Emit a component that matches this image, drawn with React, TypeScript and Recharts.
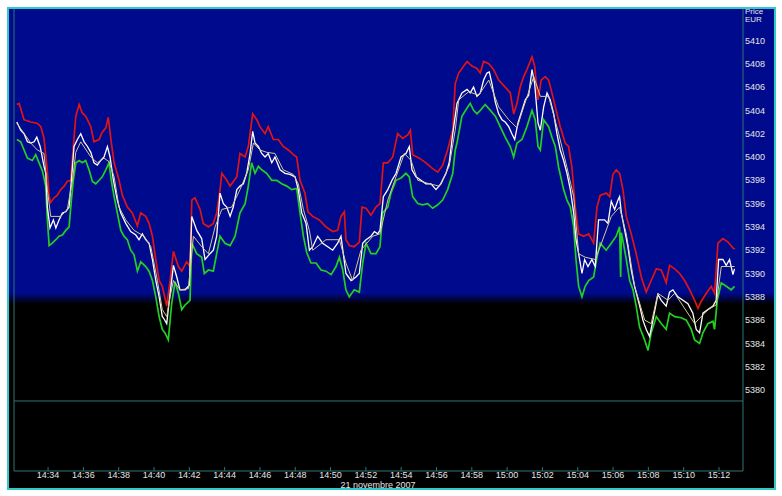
import React from 'react';
import { LineChart, Line, XAxis, YAxis, ReferenceLine } from 'recharts';

// time axis: minutes after 14:00, price in EUR
const xTicks = [34, 36, 38, 40, 42, 44, 46, 48, 50, 52, 54, 56, 58, 60, 62, 64, 66, 68, 70, 72];
const yTicks = [5380, 5382, 5384, 5386, 5388, 5390, 5392, 5394, 5396, 5398, 5400, 5402, 5404, 5406, 5408, 5410];

const redTimes = [
  32.23, 32.36, 32.64, 33.02, 33.38, 33.59, 33.77, 33.94, 34.06, 34.15, 34.34, 34.51, 34.72, 34.91, 35.08, 35.29,
  35.43, 35.57, 35.76, 35.93, 36.13, 36.42, 36.6, 36.89, 37.06, 37.27, 37.41, 37.55, 37.74, 38.02, 38.21, 38.49,
  38.77, 39.06, 39.25, 39.53, 39.72, 39.91, 40.1, 40.29, 40.47, 40.72, 40.91, 41.1, 41.38, 41.57, 41.85, 42.04,
  42.14, 42.32, 42.61, 42.79, 43.08, 43.36, 43.55, 43.74, 43.84, 44.12, 44.31, 44.69, 44.87, 45.16, 45.34, 45.59,
  45.82, 46.0, 46.29, 46.47, 46.76, 47.04, 47.32, 47.61, 47.89, 48.08, 48.27, 48.55, 48.72, 48.99, 49.36, 49.74,
  50.12, 50.4, 50.59, 50.78, 50.87, 51.06, 51.34, 51.63, 51.78, 52.01, 52.29, 52.57, 52.8, 52.99, 53.24, 53.52,
  53.8, 54.09, 54.37, 54.52, 54.65, 55.03, 55.4, 55.78, 56.07, 56.35, 56.63, 56.92, 57.06, 57.26, 57.54, 57.73,
  58.01, 58.29, 58.48, 58.67, 58.96, 59.24, 59.52, 59.89, 60.18, 60.37, 60.56, 60.74, 60.94, 61.12, 61.41, 61.56,
  61.75, 61.93, 62.16, 62.35, 62.54, 62.73, 63.01, 63.29, 63.48, 63.67, 63.86, 64.05, 64.33, 64.62, 64.9, 65.09,
  65.27, 65.61, 65.81, 65.99, 66.18, 66.37, 66.56, 66.75, 67.03, 67.31, 67.6, 67.88, 68.16, 68.45, 68.73, 69.01,
  69.2, 69.49, 69.77, 70.05, 70.34, 70.62, 70.81, 70.99, 71.28, 71.56, 71.75, 71.94, 72.22, 72.51, 72.79, 72.9,
];
const redPrices = [
  5404.5, 5404.6, 5403.2, 5403.0, 5402.9, 5402.6, 5401.6, 5399.1, 5396.6, 5396.1, 5396.5, 5396.7, 5397.2, 5397.5, 5397.9, 5398.0,
  5400.9, 5403.5, 5404.5, 5403.8, 5403.5, 5402.6, 5401.3, 5401.5, 5402.1, 5402.5, 5403.4, 5401.6, 5399.5, 5398.0, 5396.7, 5395.7,
  5395.2, 5394.1, 5395.2, 5394.9, 5394.3, 5393.2, 5391.2, 5389.4, 5388.9, 5387.2, 5389.4, 5391.9, 5390.6, 5390.2, 5391.0, 5390.6,
  5396.3, 5396.5, 5395.5, 5394.3, 5394.0, 5394.3, 5395.2, 5397.2, 5398.6, 5398.0, 5397.5, 5398.3, 5400.3, 5400.0, 5400.9, 5403.7,
  5403.2, 5402.6, 5402.0, 5402.6, 5401.5, 5401.5, 5400.9, 5400.6, 5400.2, 5400.0, 5398.0, 5396.9, 5395.3, 5394.9, 5394.6, 5394.0,
  5393.6, 5393.7, 5394.9, 5395.3, 5392.9, 5392.4, 5392.3, 5392.7, 5395.7, 5395.6, 5395.0, 5395.7, 5396.0, 5399.5, 5399.5, 5400.0,
  5402.0, 5401.6, 5401.9, 5402.3, 5400.2, 5399.9, 5399.5, 5399.0, 5398.7, 5399.3, 5400.6, 5402.3, 5406.3, 5407.2, 5407.8, 5408.2,
  5407.8, 5407.6, 5407.2, 5408.2, 5408.0, 5407.5, 5406.6, 5406.0, 5405.5, 5403.7, 5404.6, 5406.0, 5406.9, 5407.5, 5408.6, 5407.8,
  5404.9, 5406.6, 5406.9, 5406.6, 5405.5, 5404.3, 5402.6, 5401.2, 5400.9, 5399.1, 5395.7, 5393.4, 5393.2, 5393.4, 5392.6, 5395.7,
  5396.7, 5396.9, 5396.6, 5398.5, 5398.9, 5398.6, 5397.2, 5394.9, 5393.4, 5391.7, 5389.7, 5388.4, 5389.4, 5390.4, 5390.3, 5389.2,
  5390.7, 5390.4, 5390.0, 5389.4, 5388.6, 5387.7, 5387.0, 5387.6, 5388.3, 5388.9, 5388.3, 5392.6, 5393.0, 5392.7, 5392.2, 5392.1,
];

const greenTimes = [
  32.23, 32.45, 32.64, 32.83, 33.11, 33.3, 33.49, 33.68, 33.87, 33.96, 34.06, 34.24, 34.44, 34.62, 34.81, 35.0,
  35.19, 35.32, 35.43, 35.57, 35.76, 35.94, 36.13, 36.32, 36.51, 36.7, 36.89, 37.07, 37.27, 37.45, 37.58, 37.74,
  37.92, 38.12, 38.3, 38.49, 38.68, 38.87, 39.06, 39.25, 39.53, 39.72, 39.91, 40.1, 40.29, 40.47, 40.62, 40.81,
  41.0, 41.19, 41.38, 41.57, 41.76, 42.04, 42.14, 42.42, 42.7, 42.85, 43.08, 43.36, 43.55, 43.74, 44.02, 44.31,
  44.59, 44.87, 45.16, 45.34, 45.53, 45.72, 45.91, 46.1, 46.38, 46.67, 46.95, 47.23, 47.52, 47.8, 48.08, 48.27,
  48.46, 48.65, 48.89, 49.18, 49.46, 49.74, 50.03, 50.31, 50.5, 50.69, 50.87, 51.06, 51.34, 51.63, 51.82, 52.01,
  52.29, 52.57, 52.8, 52.95, 53.24, 53.42, 53.71, 53.99, 54.27, 54.46, 54.65, 54.94, 55.22, 55.5, 55.78, 56.07,
  56.35, 56.63, 56.92, 57.06, 57.16, 57.44, 57.73, 57.91, 58.1, 58.29, 58.48, 58.76, 59.05, 59.33, 59.61, 59.89,
  60.18, 60.37, 60.56, 60.84, 61.12, 61.41, 61.59, 61.75, 61.88, 62.07, 62.35, 62.54, 62.73, 62.92, 63.2, 63.39,
  63.58, 63.77, 63.9, 64.05, 64.24, 64.42, 64.62, 64.9, 65.09, 65.27, 65.61, 65.9, 66.18, 66.37, 66.43, 66.47,
  66.56, 66.75, 66.94, 67.13, 67.31, 67.5, 67.79, 67.98, 68.16, 68.45, 68.73, 69.01, 69.2, 69.49, 69.86, 70.15,
  70.43, 70.62, 70.9, 71.09, 71.37, 71.66, 71.75, 71.9, 72.13, 72.41, 72.69, 72.88,
];
const greenPrices = [
  5401.5, 5401.3, 5400.6, 5399.9, 5399.7, 5400.2, 5399.5, 5398.8, 5397.5, 5394.6, 5392.4, 5392.6, 5392.9, 5393.2, 5393.3, 5393.7,
  5394.0, 5396.3, 5398.0, 5399.5, 5399.7, 5399.5, 5399.7, 5398.9, 5397.9, 5397.7, 5398.0, 5398.3, 5398.9, 5399.5, 5398.0, 5396.6,
  5395.2, 5393.7, 5393.2, 5392.9, 5392.0, 5391.6, 5390.2, 5391.0, 5390.6, 5390.2, 5389.4, 5388.0, 5386.3, 5385.2, 5384.9, 5384.3,
  5387.4, 5389.3, 5388.3, 5386.9, 5387.3, 5387.7, 5392.6, 5391.7, 5391.4, 5390.0, 5390.3, 5390.2, 5391.7, 5393.2, 5392.6, 5392.4,
  5393.2, 5395.2, 5396.0, 5397.5, 5399.5, 5398.6, 5399.2, 5398.9, 5398.6, 5398.0, 5398.0, 5397.7, 5397.5, 5397.2, 5397.3, 5395.2,
  5393.2, 5391.8, 5390.9, 5390.9, 5390.3, 5390.2, 5389.9, 5390.6, 5391.4, 5390.3, 5388.6, 5388.0, 5388.6, 5388.4, 5390.9, 5392.6,
  5391.7, 5391.7, 5392.3, 5395.2, 5395.7, 5396.9, 5398.0, 5398.2, 5398.6, 5398.3, 5396.6, 5396.0, 5395.9, 5396.0, 5395.6, 5395.9,
  5396.3, 5397.2, 5398.6, 5400.6, 5401.2, 5403.5, 5404.2, 5404.6, 5404.0, 5403.7, 5404.0, 5404.5, 5404.0, 5403.5, 5402.6, 5401.7,
  5400.9, 5400.0, 5401.2, 5401.5, 5402.6, 5404.0, 5403.2, 5400.9, 5400.6, 5403.2, 5402.6, 5401.7, 5400.9, 5399.1, 5397.2, 5396.3,
  5395.7, 5394.0, 5391.2, 5388.9, 5388.0, 5388.9, 5389.4, 5389.7, 5391.4, 5392.6, 5392.0, 5392.6, 5393.2, 5394.0, 5389.7, 5393.5,
  5392.8, 5391.2, 5389.4, 5388.6, 5387.2, 5385.4, 5384.3, 5383.4, 5384.9, 5386.3, 5385.7, 5385.2, 5386.6, 5386.3, 5386.2, 5386.0,
  5385.2, 5384.3, 5384.0, 5384.9, 5385.7, 5385.9, 5385.2, 5387.7, 5389.2, 5388.9, 5388.6, 5388.9,
];

const lastTimes = [
  32.23, 32.45, 32.64, 32.83, 33.02, 33.21, 33.36, 33.55, 33.77, 33.87, 33.96, 34.11, 34.3, 34.44, 34.62, 34.81,
  35.0, 35.19, 35.32, 35.47, 35.66, 35.85, 36.04, 36.23, 36.42, 36.6, 36.79, 36.98, 37.17, 37.36, 37.51, 37.7,
  37.92, 38.12, 38.4, 38.68, 38.97, 39.15, 39.34, 39.53, 39.72, 39.91, 40.1, 40.29, 40.47, 40.53, 40.72, 40.91,
  41.1, 41.29, 41.47, 41.76, 42.0, 42.14, 42.42, 42.7, 42.89, 43.17, 43.36, 43.55, 43.74, 43.93, 44.12, 44.31,
  44.49, 44.69, 44.87, 45.06, 45.25, 45.44, 45.59, 45.72, 45.91, 46.1, 46.29, 46.47, 46.67, 46.85, 47.14, 47.42,
  47.7, 47.99, 48.17, 48.37, 48.61, 48.8, 48.99, 49.27, 49.55, 49.84, 50.12, 50.4, 50.59, 50.72, 50.87, 51.16,
  51.44, 51.63, 51.82, 52.01, 52.29, 52.48, 52.67, 52.8, 52.99, 53.24, 53.48, 53.71, 53.99, 54.27, 54.46, 54.61,
  54.84, 55.12, 55.4, 55.69, 55.97, 56.25, 56.54, 56.72, 56.92, 57.06, 57.16, 57.44, 57.73, 57.91, 58.1, 58.29,
  58.48, 58.67, 58.86, 58.99, 59.14, 59.33, 59.52, 59.71, 59.89, 60.09, 60.27, 60.43, 60.61, 60.84, 61.03, 61.22,
  61.41, 61.56, 61.75, 61.88, 62.07, 62.26, 62.44, 62.64, 62.82, 63.01, 63.2, 63.39, 63.58, 63.77, 63.9, 64.05,
  64.24, 64.39, 64.58, 64.8, 64.99, 65.18, 65.52, 65.71, 65.9, 66.09, 66.28, 66.37, 66.47, 66.66, 66.84, 67.03,
  67.22, 67.51, 67.69, 67.88, 68.07, 68.26, 68.54, 68.73, 69.01, 69.2, 69.39, 69.67, 69.96, 70.24, 70.52, 70.71,
  70.9, 71.09, 71.37, 71.66, 71.84, 71.98, 72.22, 72.41, 72.6, 72.79, 72.88,
];
const lastPrices = [
  5403.0, 5402.3, 5402.0, 5401.3, 5401.2, 5401.3, 5401.7, 5400.9, 5399.2, 5398.6, 5395.7, 5393.9, 5394.6, 5393.9, 5394.6, 5395.2,
  5395.3, 5395.7, 5398.0, 5400.9, 5401.5, 5402.0, 5401.3, 5400.9, 5400.4, 5399.5, 5399.3, 5399.7, 5400.0, 5400.9, 5400.0, 5398.0,
  5396.3, 5395.2, 5394.3, 5393.6, 5393.3, 5392.9, 5393.4, 5392.9, 5392.6, 5391.2, 5389.4, 5388.0, 5386.3, 5386.2, 5385.7, 5388.3,
  5390.7, 5389.7, 5388.6, 5388.6, 5389.0, 5394.9, 5393.7, 5393.0, 5391.2, 5391.7, 5392.0, 5393.2, 5396.9, 5396.0, 5395.7, 5394.9,
  5395.7, 5397.2, 5397.5, 5397.7, 5398.6, 5400.3, 5402.2, 5401.2, 5400.9, 5400.3, 5400.0, 5400.3, 5399.5, 5400.0, 5398.9, 5398.6,
  5398.5, 5398.3, 5397.2, 5395.2, 5394.3, 5392.0, 5392.3, 5393.2, 5392.6, 5392.3, 5392.0, 5392.6, 5393.2, 5391.7, 5390.0, 5389.4,
  5389.7, 5390.0, 5392.6, 5392.9, 5393.2, 5393.6, 5393.4, 5393.7, 5396.6, 5397.2, 5398.0, 5398.6, 5400.0, 5400.3, 5400.9, 5398.9,
  5398.3, 5398.0, 5397.7, 5397.7, 5397.2, 5397.7, 5398.6, 5399.5, 5402.0, 5403.5, 5404.6, 5405.5, 5405.8, 5405.5, 5406.0, 5405.2,
  5405.5, 5406.6, 5407.2, 5407.3, 5406.3, 5404.7, 5403.7, 5403.2, 5403.0, 5402.6, 5402.0, 5401.5, 5402.9, 5404.0, 5404.9, 5405.3,
  5407.5, 5406.3, 5402.9, 5402.3, 5404.3, 5405.5, 5404.9, 5403.7, 5402.0, 5400.6, 5399.7, 5398.6, 5397.2, 5395.2, 5392.9, 5391.7,
  5390.0, 5391.2, 5390.6, 5391.2, 5390.6, 5394.6, 5394.6, 5394.3, 5396.2, 5395.5, 5396.3, 5396.6, 5395.2, 5393.7, 5392.3, 5390.3,
  5388.9, 5387.2, 5386.0, 5385.2, 5384.6, 5386.0, 5388.2, 5387.7, 5387.2, 5388.4, 5388.6, 5388.0, 5387.7, 5387.4, 5386.6, 5385.2,
  5384.9, 5386.6, 5386.9, 5387.2, 5387.7, 5391.2, 5391.2, 5390.7, 5391.2, 5389.9, 5390.4,
];

const avgTimes = [
  32.23, 33.02, 33.39, 33.77, 33.96, 34.15, 34.72, 35.09, 35.38, 35.57, 35.85, 36.42, 36.79, 37.17, 37.45, 37.74,
  38.02, 38.4, 38.87, 39.44, 39.82, 40.19, 40.47, 40.72, 40.91, 41.1, 41.47, 41.95, 42.23, 42.7, 43.08, 43.46,
  43.84, 44.4, 44.87, 45.34, 45.63, 46.0, 46.38, 46.85, 47.32, 47.89, 48.17, 48.46, 48.8, 48.99, 49.74, 50.5,
  50.87, 51.25, 51.72, 52.39, 52.8, 53.24, 53.71, 54.18, 54.56, 54.94, 55.59, 56.16, 56.72, 57.06, 57.26, 57.82,
  58.39, 58.96, 59.52, 60.09, 60.56, 60.94, 61.51, 61.88, 62.35, 62.92, 63.39, 63.77, 64.05, 64.42, 64.99, 65.27,
  65.9, 66.37, 66.75, 67.22, 67.79, 68.16, 68.54, 69.11, 69.49, 70.62, 71.37, 71.84, 72.13, 72.88,
];
const avgPrices = [
  5402.9, 5401.2, 5400.6, 5400.3, 5397.2, 5394.9, 5394.9, 5395.5, 5398.0, 5400.4, 5401.3, 5400.0, 5399.5, 5399.9, 5399.6, 5398.3,
  5395.7, 5394.6, 5393.7, 5393.2, 5392.3, 5389.4, 5386.9, 5386.3, 5388.0, 5389.4, 5388.6, 5388.7, 5393.2, 5392.3, 5391.7, 5394.0,
  5395.5, 5395.7, 5397.2, 5398.9, 5401.2, 5400.6, 5400.4, 5400.3, 5398.9, 5398.5, 5397.7, 5395.5, 5393.7, 5392.0, 5392.9, 5392.9,
  5390.9, 5389.4, 5392.0, 5393.2, 5393.4, 5396.3, 5398.3, 5400.3, 5399.7, 5398.0, 5397.7, 5397.5, 5399.2, 5402.3, 5404.9, 5405.6,
  5405.3, 5406.6, 5404.3, 5403.2, 5402.5, 5404.3, 5406.9, 5405.2, 5405.2, 5402.0, 5399.1, 5396.6, 5391.7, 5391.4, 5391.2, 5392.3,
  5394.9, 5395.7, 5393.4, 5388.9, 5386.0, 5385.7, 5388.3, 5387.7, 5388.3, 5385.7, 5386.9, 5387.3, 5390.6, 5390.6,
];

const toRows = (times: number[], prices: number[]) => times.map((t, i) => ({ t, v: prices[i] }));

const redData = toRows(redTimes, redPrices);
const greenData = toRows(greenTimes, greenPrices);
const lastData = toRows(lastTimes, lastPrices);
const avgData = toRows(avgTimes, avgPrices);

const fmtTime = (m: number) => {
  const h = 14 + Math.floor(m / 60);
  const mm = Math.round(m % 60);
  return `${h}:${mm < 10 ? '0' + mm : mm}`;
};

const FRAME = '#2e7474';
const TXT = '#e4e4e4';
const FONT = '"Liberation Sans", Arial, sans-serif';

export default function App() {
  return (
    <div style={{ position: 'relative', width: 782, height: 496, background: '#fff', fontFamily: FONT }}>
      <style>{'body{margin:0}'}</style>
      <div
        style={{
          position: 'absolute',
          left: 7,
          top: 7,
          width: 769,
          height: 483,
          boxSizing: 'border-box',
          border: '2px solid #33c9c9',
          background: 'linear-gradient(to bottom, #000a8c 0px, #000a8c 284px, #000 295px, #000 100%)',
        }}
      />
      <div style={{ position: 'absolute', left: 0, top: 0 }}>
        <LineChart width={782} height={496} margin={{ top: 9, right: 0, bottom: 0, left: 14 }}>
          <XAxis
            dataKey="t"
            type="number"
            domain={[32.07, 73.36]}
            allowDataOverflow
            ticks={xTicks}
            tickFormatter={fmtTime}
            height={25}
            stroke={FRAME}
            tickSize={-4}
            tickMargin={5}
            tick={{ fill: TXT, fontSize: 9, fontFamily: FONT }}
          />
          <YAxis
            orientation="right"
            type="number"
            domain={[5373.05, 5412.7]}
            allowDataOverflow
            ticks={yTicks}
            width={39}
            stroke={FRAME}
            tickLine={false}
            tickSize={0}
            tickMargin={2}
            tick={{ fill: TXT, fontSize: 9, fontFamily: FONT, textAnchor: 'start' }}
          />
          <ReferenceLine y={5379.06} stroke={FRAME} />
          <ReferenceLine x={32.07} stroke={FRAME} />
          <Line data={greenData} dataKey="v" type="linear" stroke="#22d022" strokeWidth={1.7} dot={false} isAnimationActive={false} />
          <Line data={redData} dataKey="v" type="linear" stroke="#e01414" strokeWidth={1.7} dot={false} isAnimationActive={false} />
          <Line data={lastData} dataKey="v" type="linear" stroke="#ffffff" strokeWidth={1.3} dot={false} isAnimationActive={false} />
          <Line data={avgData} dataKey="v" type="linear" stroke="#d6c88e" strokeWidth={1} dot={false} isAnimationActive={false} />
        </LineChart>
      </div>
      <div style={{ position: 'absolute', left: 745, top: 8, fontSize: 8, lineHeight: '8px', color: TXT }}>
        Price
        <br />
        EUR
      </div>
      <div
        style={{
          position: 'absolute',
          left: 278,
          width: 200,
          top: 480,
          textAlign: 'center',
          fontSize: 9,
          lineHeight: '10px',
          color: TXT,
        }}
      >
        21 novembre 2007
      </div>
    </div>
  );
}
